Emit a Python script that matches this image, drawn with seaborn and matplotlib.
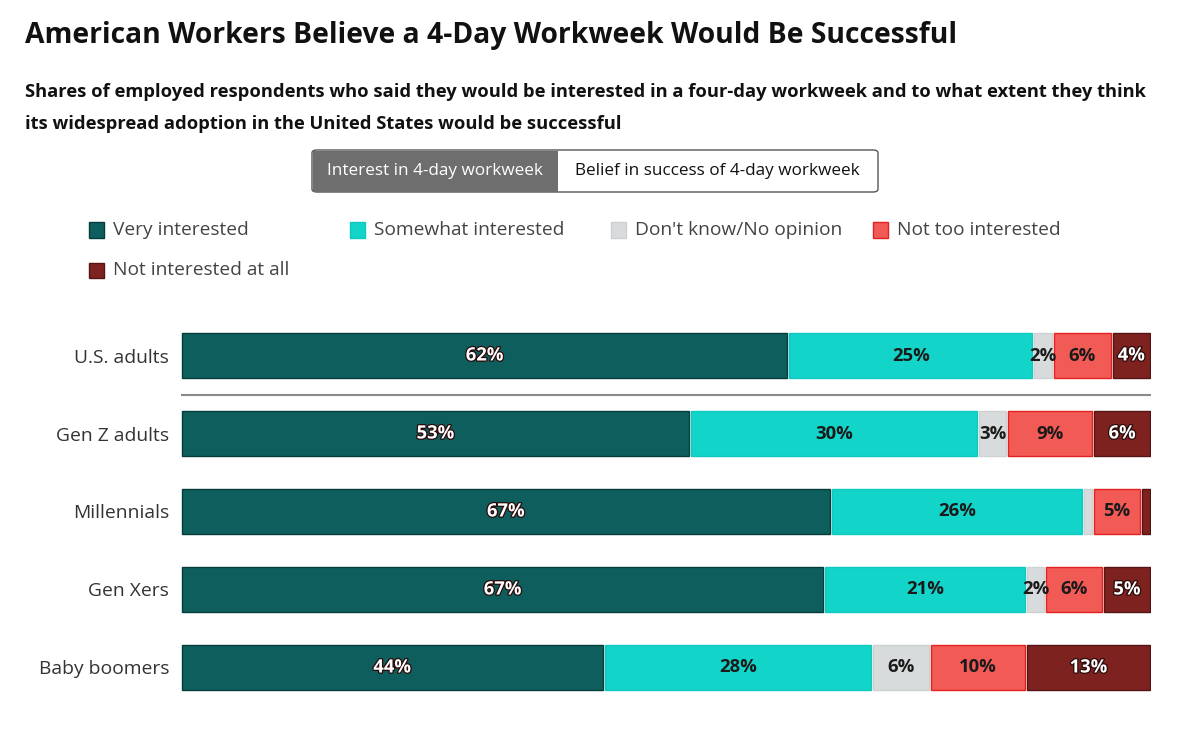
import pandas as pd
import matplotlib.pyplot as plt
import matplotlib.patheffects as pe
from matplotlib.patches import Rectangle, FancyBboxPatch
import seaborn as sns

# Data (shares in %, as labelled on the chart)
groups = ['U.S. adults', 'Gen Z adults', 'Millennials', 'Gen Xers', 'Baby boomers']
categories = ['Very interested', 'Somewhat interested', "Don't know/No opinion",
              'Not too interested', 'Not interested at all']
very_interested = [62, 53, 67, 67, 44]
somewhat_interested = [25, 30, 26, 21, 28]
dont_know = [2, 3, 1, 2, 6]
not_too_interested = [6, 9, 5, 6, 10]
not_at_all = [4, 6, 1, 5, 13]

colors = ['#0e5e5e', '#12d4c9', '#d7dbdb', '#f25a55', '#7e2220']
edges = ['#063b3b', '#10c9be', '#cdd1d1', '#e3221f', '#561313']
label_colors = ['white', '#1a1a1a', '#1a1a1a', '#1a1a1a', 'white']

# Build a long table, normalise each row to 100 for drawing
wide = pd.DataFrame({'group': groups,
                     categories[0]: very_interested,
                     categories[1]: somewhat_interested,
                     categories[2]: dont_know,
                     categories[3]: not_too_interested,
                     categories[4]: not_at_all})
vals = wide[categories]
share = vals.div(vals.sum(axis=1), axis=0) * 100
left = share.cumsum(axis=1) - share

sns.set_theme(style='white')
plt.rcParams['font.family'] = ['Open Sans', 'DejaVu Sans']

fig = plt.figure(figsize=(11.99, 7.34), dpi=100)
W, H = 1199, 734


def fx(px):
    return px / W


def fy(py):
    return 1 - py / H


ax = fig.add_axes([fx(181), fy(706.5), fx(970), (706.5 - 316.5) / H])

px_unit = 100 / 970  # one pixel in data units
for i, cat in enumerate(categories):
    sub = pd.DataFrame({'group': groups, 'share': share[cat].values})
    n_before = len(ax.patches)
    sns.barplot(data=sub, x='share', y='group', orient='h', ax=ax,
                left=left[cat].values, color=colors[i], saturation=1,
                edgecolor=edges[i], linewidth=1, width=0.577, errorbar=None)
    # small white gap between segments
    for p in ax.patches[n_before:]:
        p.set_x(p.get_x() + px_unit)
        p.set_width(p.get_width() - 2 * px_unit)
    for r in range(len(groups)):
        v = vals[cat].iloc[r]
        if v < 2:
            continue
        x = left[cat].iloc[r] + share[cat].iloc[r] / 2
        t = ax.text(x, r, f'{v}%', ha='center', va='center', fontsize=13.3,
                    fontweight='bold', color=label_colors[i])
        if label_colors[i] == 'white':
            t.set_path_effects([pe.Stroke(linewidth=1.8, foreground='#2a0a0a'),
                                pe.Normal()])

ax.axhline(0.5, color='#8a8a8a', lw=1.5)
ax.set_xlim(0, 100)
ax.set_ylim(4.5, -0.5)
ax.set_xlabel('')
ax.set_ylabel('')
ax.set_xticks([])
ax.tick_params(axis='y', length=0, pad=8.5, labelsize=13.9, labelcolor='#333333')
sns.despine(ax=ax, left=True, bottom=True)

# Title and subtitle
fig.text(fx(25), fy(36), 'American Workers Believe a 4-Day Workweek Would Be Successful',
         fontsize=20.3, fontweight='bold', color='#111111', va='center')
fig.text(fx(25), fy(92), 'Shares of employed respondents who said they would be interested in a '
         'four-day workweek and to what extent they think',
         fontsize=13.2, fontweight='bold', color='#111111', va='center')
fig.text(fx(25), fy(124), 'its widespread adoption in the United States would be successful',
         fontsize=13.2, fontweight='bold', color='#111111', va='center')

# Toggle buttons
box = FancyBboxPatch((fx(312), fy(192)), fx(566), (192 - 150) / H,
                     boxstyle='round,pad=0,rounding_size=0.004',
                     transform=fig.transFigure, facecolor='white',
                     edgecolor='#555555', lw=1)
fig.patches.append(box)
fig.patches.append(Rectangle((fx(312.5), fy(191.5)), fx(245), (191.5 - 150.5) / H,
                             transform=fig.transFigure, facecolor='#6e6e6e',
                             edgecolor='none'))
fig.text(fx(435), fy(171), 'Interest in 4-day workweek', fontsize=12.3,
         color='white', ha='center', va='center')
fig.text(fx(717), fy(171), 'Belief in success of 4-day workweek', fontsize=12.3,
         color='#111111', ha='center', va='center')

# Legend
leg_pos = [(89, 230), (350, 230), (611, 230), (873, 230), (89, 270)]
for i, cat in enumerate(categories):
    x0, yc = leg_pos[i]
    fig.patches.append(Rectangle((fx(x0), fy(yc + 7.5)), fx(15), 15 / H,
                                 transform=fig.transFigure, facecolor=colors[i],
                                 edgecolor=edges[i], lw=1))
    fig.text(fx(x0 + 24), fy(yc), cat, fontsize=13.8, color='#444444',
             va='center')

fig.savefig('out.png', dpi=100, facecolor='white')
